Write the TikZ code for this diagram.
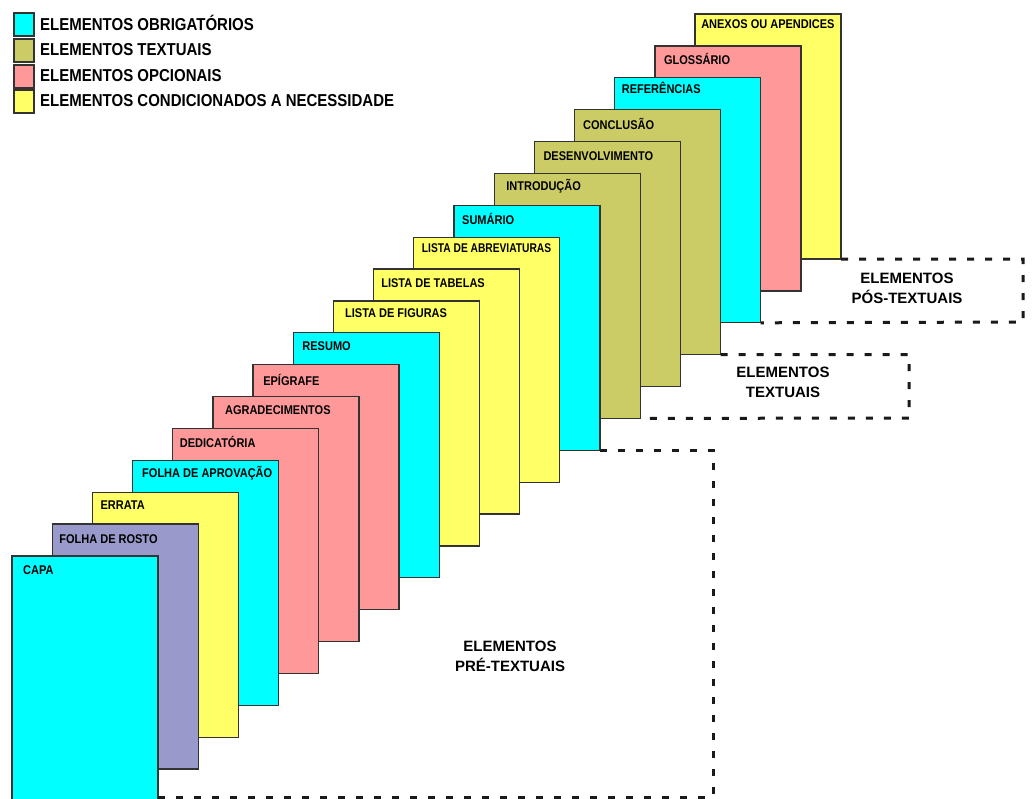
\documentclass[tikz,border=0pt]{standalone}
\usepackage{fontspec}
\setmainfont{Liberation Sans}
\definecolor{cCyan}{HTML}{00FFFF}
\definecolor{cOlive}{HTML}{CCCC66}
\definecolor{cPink}{HTML}{FF9999}
\definecolor{cYellow}{HTML}{FFFF66}
\definecolor{cLav}{HTML}{9999CC}
\definecolor{bordc}{HTML}{333333}
\definecolor{dashc}{HTML}{1A1A1A}
\tikzset{
  pg/.style={draw=bordc, line width=1.3pt, minimum width=146pt, minimum height=245pt,
    anchor=north west, inner sep=0pt, outer sep=0pt},
  lbl/.style={anchor=west, inner sep=0pt, text=black, yscale=1.15, font=\bfseries\fontsize{11}{11}\selectfont},
  legsq/.style={draw=bordc, line width=1.3pt, minimum width=20pt, minimum height=23pt,
    anchor=north west, inner sep=0pt, outer sep=0pt},
  legtxt/.style={anchor=west, inner sep=0pt, yscale=1.15, font=\bfseries\fontsize{15}{15}\selectfont},
  grouptxt/.style={align=center, inner sep=0pt, font=\bfseries\fontsize{15}{20}\selectfont},
  dashbox/.style={draw=dashc, line width=3pt, dash pattern=on 7pt off 11pt}
}
\begin{document}
\begin{tikzpicture}[x=1pt,y=-1pt]
\useasboundingbox (0,0) rectangle (1033,798);
% legend
\node[legsq, fill=cCyan] (lq1) at (14,13) {};
\node[legsq, fill=cOlive] (lq2) at (14,39) {};
\node[legsq, fill=cPink] (lq3) at (14,65) {};
\node[legsq, fill=cYellow] (lq4) at (14,90) {};
\node[legtxt] (lt1) at (40,23) {ELEMENTOS OBRIGATÓRIOS};
\node[legtxt] (lt2) at (40,50) {ELEMENTOS TEXTUAIS};
\node[legtxt] (lt3) at (40,76) {ELEMENTOS OPCIONAIS};
\node[legtxt] (lt4) at (40,101) {ELEMENTOS CONDICIONADOS A NECESSIDADE};
% pages, back to front
\foreach \i/\c/\t/\dx/\dy/\s in {
  18/cYellow/ANEXOS OU APENDICES/6/10/1,
  17/cPink/GLOSSÁRIO/9/13/1,
  16/cCyan/REFERÊNCIAS/7/10/1,
  15/cOlive/CONCLUSÃO/8.5/14/1,
  14/cOlive/DESENVOLVIMENTO/9/14.5/1,
  13/cOlive/INTRODUÇÃO/12/12.5/1,
  12/cCyan/SUMÁRIO/8/14/1,
  11/cYellow/LISTA DE ABREVIATURAS/8/11/0.93,
  10/cYellow/LISTA DE TABELAS/7.5/14/1,
  9/cYellow/LISTA DE FIGURAS/11.5/12.5/1,
  8/cCyan/RESUMO/9/13/1,
  7/cPink/EPÍGRAFE/10/15/1,
  6/cPink/AGRADECIMENTOS/12/14/1,
  5/cPink/DEDICATÓRIA/7/13.5/1,
  4/cCyan/FOLHA DE APROVAÇÃO/9.5/13/1,
  3/cYellow/ERRATA/8/13/1,
  2/cLav/FOLHA DE ROSTO/7/15/1,
  1/cCyan/CAPA/11/14/1}{
  \node[pg, fill=\c] (p\i) at ({12+(\i-1)*40.18},{556-(\i-1)*31.88}) {};
  \node[lbl, xscale=\s] (t\i) at ([xshift=\dx pt, yshift=-\dy pt]p\i.north west) {\t};
}
% group boxes
\coordinate (posc) at (1023,322);
\draw[dashbox] (p18.south east) -| (posc) -- (p16.south east);
\node[grouptxt] (gpos) at (907,288) {ELEMENTOS\\PÓS-TEXTUAIS};
\coordinate (txtc) at (909,418);
\draw[dashbox] (p15.south east) -| (txtc) -- (p13.south east);
\node[grouptxt] (gtxt) at (783,382) {ELEMENTOS\\TEXTUAIS};
\coordinate (prec) at (713,797);
\coordinate (prel) at (158,797);
\draw[dashbox] (p12.south east) -| (prec) -- (prel);
\node[grouptxt] (gpre) at (510,656) {ELEMENTOS\\PRÉ-TEXTUAIS};
\end{tikzpicture}
\end{document}
